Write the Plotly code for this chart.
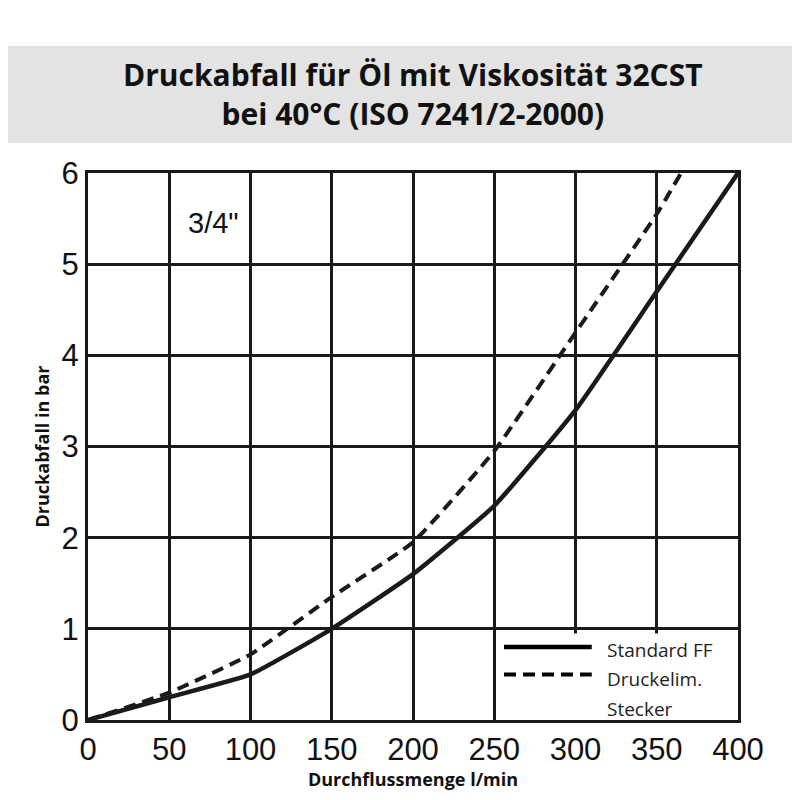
import plotly.graph_objects as go

flow_std = [0, 50, 100, 150, 200, 250, 300, 350, 400]
dp_std = [0, 0.25, 0.5, 1.0, 1.6, 2.35, 3.4, 4.7, 6.0]
flow_dr = [0, 50, 100, 150, 200, 250, 300, 350, 365]
dp_dr = [0, 0.3, 0.72, 1.35, 1.95, 2.95, 4.25, 5.55, 6.0]
x_ticks = [0, 50, 100, 150, 200, 250, 300, 350, 400]
y_ticks = [0, 1, 2, 3, 4, 5, 6]

fig = go.Figure()
fig.add_trace(go.Scatter(x=flow_std, y=dp_std, mode="lines", line=dict(color="#1a1a1a", width=4.5, shape="spline", smoothing=0.4), showlegend=False))
fig.add_trace(go.Scatter(x=flow_dr, y=dp_dr, mode="lines", line=dict(color="#1a1a1a", width=4, dash="12px,7px", shape="spline", smoothing=0.4), showlegend=False))

shapes = [
    dict(type="rect", xref="paper", yref="paper", x0=-0.123, x1=1.108, y0=1.055, y1=1.232, fillcolor="#e3e3e3", line=dict(width=0), layer="below"),
    dict(type="rect", xref="x", yref="y", x0=252, x1=402, y0=-0.02, y1=0.95, fillcolor="white", line=dict(width=0), layer="above"),
    dict(type="line", xref="x", yref="y", x0=256, x1=310, y0=0.8, y1=0.8, line=dict(color="black", width=4.5)),
    dict(type="line", xref="x", yref="y", x0=256, x1=310, y0=0.5, y1=0.5, line=dict(color="black", width=4, dash="12px,7px")),
]
ann = [
    dict(xref="paper", yref="paper", x=0.5, y=1.145, yanchor="middle", text="<b>Druckabfall für Öl mit Viskosität 32CST<br>bei 40°C (ISO 7241/2-2000)</b>", showarrow=False, font=dict(family="Open Sans", size=30, color="#111")),
    dict(x=77, y=5.45, text="3/4\"", showarrow=False, xanchor="center", font=dict(family="Liberation Sans", size=29, color="#111")),
    dict(x=318, y=0.77, text="Standard FF", showarrow=False, xanchor="left", font=dict(family="Open Sans", size=19, color="#222")),
    dict(x=318, y=0.45, text="Druckelim.", showarrow=False, xanchor="left", font=dict(family="Open Sans", size=19, color="#222")),
    dict(x=318, y=0.12, text="Stecker", showarrow=False, xanchor="left", font=dict(family="Open Sans", size=19, color="#222")),
]
fig.update_layout(
    width=800, height=800, margin=dict(l=80, r=70, t=165, b=88),
    paper_bgcolor="white", plot_bgcolor="white",
    shapes=shapes, annotations=ann,
    xaxis=dict(range=[0, 400], tickvals=x_ticks, showgrid=True, gridcolor="#1a1a1a", gridwidth=3, zeroline=False,
               showline=True, linecolor="#1a1a1a", linewidth=3, mirror=True, ticks="", automargin=False,
               tickfont=dict(family="Liberation Sans", size=31, color="#111"),
               title=dict(text="<b>Durchflussmenge l/min</b>", font=dict(family="Open Sans", size=18, color="#111"), standoff=0)),
    yaxis=dict(range=[0, 6], tickvals=y_ticks, showgrid=True, gridcolor="#1a1a1a", gridwidth=3, zeroline=False,
               showline=True, linecolor="#1a1a1a", linewidth=3, mirror=True, ticks="", automargin=False,
               tickfont=dict(family="Liberation Sans", size=31, color="#111"),
               title=dict(text="<b>Druckabfall in bar</b>", font=dict(family="Open Sans", size=18, color="#111"), standoff=8)),
)
fig.write_html("out.html")
